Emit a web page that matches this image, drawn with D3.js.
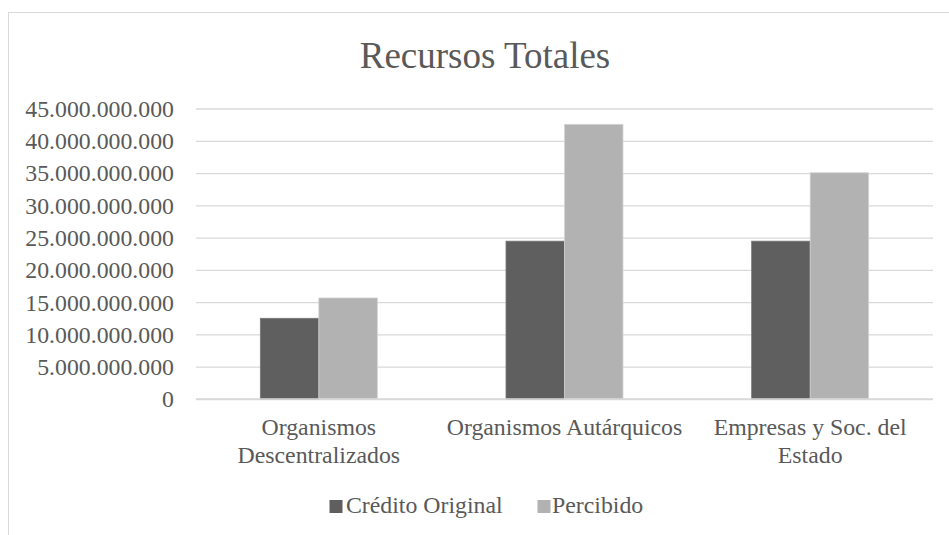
<!DOCTYPE html>
<html>
<head>
<meta charset="utf-8">
<script src="https://cdn.jsdelivr.net/npm/d3@7"></script>
<style>
  html, body { margin: 0; padding: 0; background: #ffffff; }
  svg { display: block; }
  text { font-family: "Liberation Serif", "Times New Roman", serif; fill: #595959; }
</style>
</head>
<body>
<svg id="chart" width="949" height="535"></svg>
<script>
const title = "Recursos Totales";
const categories = ["Organismos Descentralizados", "Organismos Autárquicos", "Empresas y Soc. del Estado"];
const seriesNames = ["Crédito Original", "Percibido"];
const creditoOriginal = [12500000000, 24450000000, 24450000000];
const percibido = [15650000000, 42550000000, 35050000000];
const yTicks = [0, 5000000000, 10000000000, 15000000000, 20000000000, 25000000000, 30000000000, 35000000000, 40000000000, 45000000000];
const seriesColors = ["#5f5f5f", "#b2b2b2"];
const seriesValues = [creditoOriginal, percibido];

const svg = d3.select("#chart");
const W = 949, H = 535;
const plot = { left: 196, right: 933, top: 108.5, bottom: 399 };

// Outer chart border
svg.append("rect")
  .attr("x", 8.5).attr("y", 12.5)
  .attr("width", 980).attr("height", 600)
  .attr("fill", "#ffffff").attr("stroke", "#d9d9d9").attr("stroke-width", 1);

// Title
svg.append("text")
  .attr("x", 485).attr("y", 68)
  .attr("text-anchor", "middle")
  .style("font-size", "37px")
  .text(title);

const loc = d3.formatLocale({ decimal: ",", thousands: ".", grouping: [3], currency: ["", ""] });
const fmt = loc.format(",d");

const y = d3.scaleLinear().domain([0, 45000000000]).range([plot.bottom, plot.top]);
const gap = 1 - 117 / ((plot.right - plot.left) / categories.length);
const x0 = d3.scaleBand().domain(categories).range([plot.left, plot.right])
  .paddingInner(gap).paddingOuter(gap / 2);
const x1 = d3.scaleBand().domain(seriesNames).range([0, x0.bandwidth()]);

// Gridlines + Y axis labels
const yAxis = d3.axisLeft(y).tickValues(yTicks).tickFormat(fmt)
  .tickSize(-(plot.right - plot.left)).tickPadding(22);
const yg = svg.append("g").attr("transform", `translate(${plot.left},0)`).call(yAxis);
yg.select(".domain").remove();
yg.selectAll(".tick line").attr("stroke", "#d9d9d9").attr("stroke-width", 1.3);
yg.selectAll(".tick text")
  .style("font-size", "23.8px")
  .style("font-family", "'Liberation Serif', 'Times New Roman', serif")
  .attr("fill", "#595959")
  .attr("dy", "0.33em");

// Bars
const rows = categories.map((c, i) => ({ cat: c, vals: seriesNames.map((s, j) => ({ s, j, v: seriesValues[j][i] })) }));
const groups = svg.append("g").selectAll("g").data(rows).join("g")
  .attr("transform", d => `translate(${x0(d.cat)},0)`);
groups.selectAll("rect").data(d => d.vals).join("rect")
  .attr("x", d => x1(d.s))
  .attr("y", d => y(d.v))
  .attr("width", x1.bandwidth())
  .attr("height", d => y(0) - y(d.v))
  .attr("fill", d => seriesColors[d.j])
  .attr("stroke", d => d.j === 0 ? "#777777" : "#d4d4d4")
  .attr("stroke-width", 0.8);

// Baseline axis line
svg.append("line")
  .attr("x1", plot.left).attr("x2", plot.right)
  .attr("y1", y(0)).attr("y2", y(0))
  .attr("stroke", "#d9d9d9").attr("stroke-width", 1.3);

// Category labels with wrapping
const step = x0.step();
const catG = svg.append("g");
categories.forEach(c => {
  const cx = x0(c) + x0.bandwidth() / 2;
  const t = catG.append("text")
    .attr("x", cx).attr("y", 435)
    .attr("text-anchor", "middle")
    .style("font-size", "23.8px");
  const words = c.split(" ");
  let line = [];
  let lineNo = 0;
  let tspan = t.append("tspan").attr("x", cx).attr("y", 435);
  words.forEach(w => {
    line.push(w);
    tspan.text(line.join(" "));
    if (tspan.node().getComputedTextLength() > step - 2 && line.length > 1) {
      line.pop();
      tspan.text(line.join(" "));
      line = [w];
      lineNo++;
      tspan = t.append("tspan").attr("x", cx).attr("y", 435 + lineNo * 28).text(w);
    }
  });
});

// Legend
const legendItems = [
  { name: seriesNames[0], color: seriesColors[0], sx: 329.5, tx: 346 },
  { name: seriesNames[1], color: seriesColors[1], sx: 537.5, tx: 552 }
];
const lg = svg.append("g");
legendItems.forEach(it => {
  lg.append("rect").attr("x", it.sx).attr("y", 500).attr("width", 13).attr("height", 13)
    .attr("fill", it.color);
  lg.append("text").attr("x", it.tx).attr("y", 513)
    .style("font-size", "23.8px").text(it.name);
});
</script>
</body>
</html>
